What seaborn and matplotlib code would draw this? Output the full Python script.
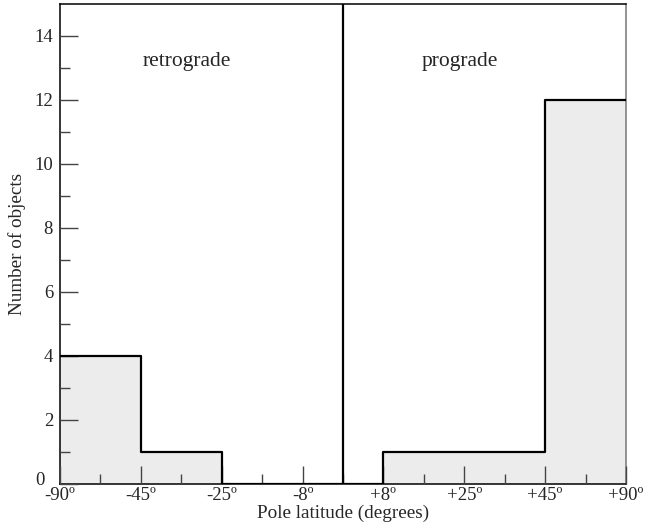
import matplotlib
matplotlib.use("Agg")
import matplotlib.pyplot as plt
import matplotlib.transforms as mtransforms
import seaborn as sns
import numpy as np

# Data
bin_labels = ["-90º", "-45º", "-25º", "-8º", "+8º", "+25º", "+45º", "+90º"]
counts = [4, 1, 0, 0, 0, 1, 1, 12]  # bins between edges (with centre split at 0º)
# bin edges in tick-index coordinates (0º lies midway between -8º and +8º)
edges = [0, 1, 2, 3, 3.5, 4, 5, 6, 7]
region_labels = ["retrograde", "prograde"]

sns.set_theme(style="white")
plt.rcParams["font.family"] = ["Liberation Serif", "DejaVu Serif"]

fig = plt.figure(figsize=(6.48, 5.31), dpi=100)
ax = fig.add_axes([60/648, 1-484/531, (626-60)/648, (484-4)/531])
ax.set_axisbelow(False)

centers = [(edges[i] + edges[i+1]) / 2 for i in range(len(counts))]
sns.histplot(x=centers, weights=counts, bins=edges, element="step", fill=True,
             color="#ececec", alpha=1, linewidth=0, ax=ax, zorder=0.3)
sns.histplot(x=centers, weights=counts, bins=edges, element="step", fill=False,
             color="black", linewidth=1.6, ax=ax, zorder=3)

ax.axvline(edges[4], color="black", linewidth=1.6, zorder=3)

ax.set_xlim(0, 7)
ax.set_ylim(0, 15)
ax.set_xticks(range(len(bin_labels)))
ax.set_xticklabels(bin_labels, fontsize=13.5)
ax.set_xticks(np.arange(0.5, 7, 1), minor=True)
ax.set_yticks(range(0, 15, 2))
ax.set_yticklabels([str(v) for v in range(0, 15, 2)], fontsize=13.5)
ax.set_yticks(range(1, 15, 2), minor=True)
ax.tick_params(axis="x", which="major", pad=2)
ax.tick_params(axis="y", which="major", pad=5)
ax.tick_params(which="major", direction="in", length=13, width=1, color="#444444",
               bottom=True, left=True, top=False, right=False)
ax.tick_params(which="minor", direction="in", length=7, width=1, color="#444444",
               bottom=True, left=True, top=False, right=False)

# nudge the "0" label slightly so it does not collide with "-90º"
zero_lbl = ax.get_yticklabels()[0]
zero_lbl.set_transform(zero_lbl.get_transform() +
                       mtransforms.ScaledTranslation(-6/72, 4/72, fig.dpi_scale_trans))

ax.set_xlabel("Pole latitude (degrees)", fontsize=13.8, labelpad=1)
ax.set_ylabel("Number of objects", fontsize=13.8, labelpad=6)

ax.text(1.57, 13.2, region_labels[0], fontsize=15.5, ha="center", va="center")
ax.text(4.95, 13.2, region_labels[1], fontsize=15.5, ha="center", va="center")

for side, sp in ax.spines.items():
    sp.set_color("black")
    sp.set_linewidth(1.1)
ax.spines["right"].set_color("#777777")

fig.savefig("out.png", dpi=100)
